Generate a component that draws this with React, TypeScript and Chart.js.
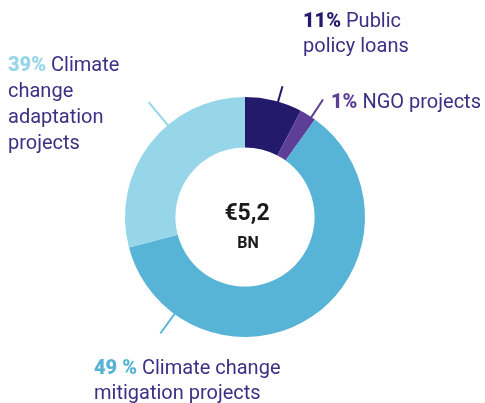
import React, { useEffect, useRef } from "react";
import { Chart, registerables } from "chart.js";

Chart.register(...registerables);

const categories = [
  "Public policy loans",
  "NGO projects",
  "Climate change mitigation projects",
  "Climate change adaptation projects",
];
// slice sizes as drawn in the picture
const values = [7.7, 2.2, 61.0, 29.1];
const percentLabels = ["11%", "1%", "49 %", "39%"];
const colors = ["#241a6c", "#5e3f97", "#57b4d6", "#96d6e8"];
const leaderAngles = [16, 33.6, 216, 320]; // degrees clockwise from top
const leaderLengths = [136, 141, 144, 150];
const centerLines = ["€5,2", "BN"];

const textColor = "#3d2f84";
const FONT = "Roboto, 'Noto Sans', sans-serif";

type LabelSpec = { bold: string; lines: string[]; x: number; y: number; lh: number; color: string };

const labelSpecs: LabelSpec[] = [
  { bold: percentLabels[0], lines: [" Public", "policy loans"], x: 303, y: 27, lh: 24.5, color: colors[0] },
  { bold: percentLabels[1], lines: [" NGO projects"], x: 331, y: 108, lh: 25, color: colors[1] },
  { bold: percentLabels[2], lines: [" Climate change", "mitigation projects"], x: 94, y: 374, lh: 24.5, color: colors[2] },
  { bold: percentLabels[3], lines: [" Climate", "change", "adaptation", "projects"], x: 8, y: 71, lh: 26, color: colors[3] },
];

const overlayPlugin = {
  id: "overlay",
  afterDraw(chart: any) {
    const ctx = chart.ctx;
    const meta = chart.getDatasetMeta(0);
    const arc = meta.data[0];
    const cx = arc.x;
    const cy = arc.y;
    const r = arc.outerRadius;
    ctx.save();
    // leader lines
    leaderAngles.forEach((deg, i) => {
      const a = (deg * Math.PI) / 180;
      ctx.beginPath();
      ctx.strokeStyle = colors[i];
      ctx.lineWidth = 2;
      ctx.moveTo(cx + Math.sin(a) * (r - 1), cy - Math.cos(a) * (r - 1));
      ctx.lineTo(cx + Math.sin(a) * leaderLengths[i], cy - Math.cos(a) * leaderLengths[i]);
      ctx.stroke();
    });
    // labels
    ctx.textBaseline = "alphabetic";
    ctx.textAlign = "left";
    labelSpecs.forEach((s) => {
      ctx.font = `900 20px ${FONT}`;
      ctx.fillStyle = s.color;
      ctx.fillText(s.bold, s.x, s.y);
      const bw = ctx.measureText(s.bold).width;
      ctx.font = `400 20px ${FONT}`;
      ctx.fillStyle = textColor;
      s.lines.forEach((line, j) => {
        if (j === 0) ctx.fillText(line, s.x + bw, s.y);
        else ctx.fillText(line, s.x, s.y + j * s.lh);
      });
    });
    // center text
    ctx.textAlign = "center";
    ctx.fillStyle = "#1a1a1a";
    ctx.font = `700 23px ${FONT}`;
    ctx.fillText(centerLines[0], cx + 2, cy + 3);
    ctx.font = `700 16px ${FONT}`;
    ctx.fillText(centerLines[1], cx + 3, cy + 31);
    ctx.restore();
  },
};

export default function App() {
  const ref = useRef<HTMLCanvasElement>(null);
  useEffect(() => {
    document.body.style.margin = "0";
    const chart = new Chart(ref.current as HTMLCanvasElement, {
      type: "doughnut",
      data: {
        labels: categories,
        datasets: [
          {
            data: values,
            backgroundColor: colors,
            borderWidth: 0,
          },
        ],
      },
      options: {
        animation: false,
        responsive: false,
        cutout: "58%",
        rotation: 0,
        layout: { padding: { left: 125, right: 120, top: 97, bottom: 66 } },
        plugins: { legend: { display: false }, tooltip: { enabled: false } },
      },
      plugins: [overlayPlugin],
    });
    return () => chart.destroy();
  }, []);
  return (
    <div style={{ position: "absolute", left: 0, top: 0, width: 485, height: 403, background: "#fff" }}>
      <canvas ref={ref} width={485} height={403} style={{ width: 485, height: 403 }} />
    </div>
  );
}
